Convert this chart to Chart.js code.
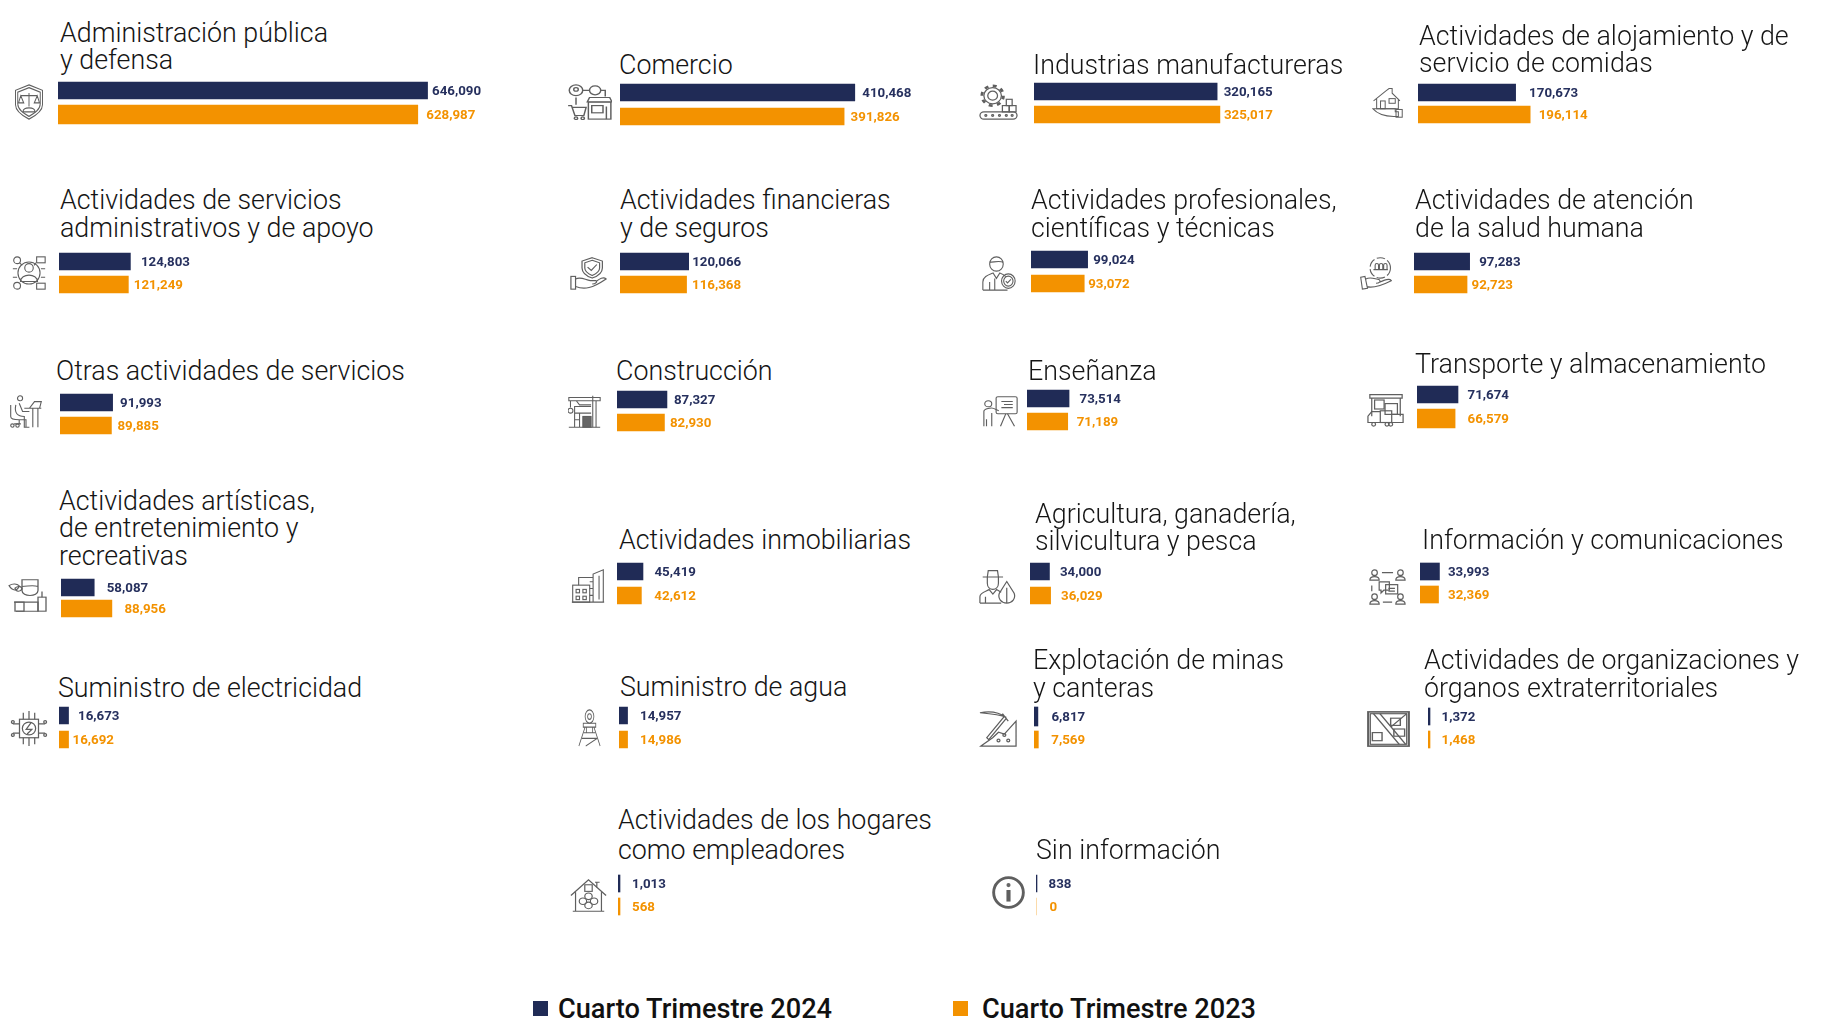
<!DOCTYPE html>
<html lang="es">
<head>
<meta charset="utf-8">
<title>Cuarto Trimestre</title>
<script src="https://cdn.jsdelivr.net/npm/chart.js@4"></script>
<style>
    html, body { margin: 0; padding: 0; background: #fff; }
    body { position: relative; width: 1823px; height: 1019px; overflow: hidden; font-family: Roboto, sans-serif; }
    canvas, .title, .icon, .legend-box, .legend-text { position: absolute; }
    .title { font-family: "Roboto Light", Roboto, sans-serif; font-weight: 300; font-size: 26.8px; color: #151515; white-space: pre; }
    .icon { fill: none; stroke: #5f5f5f; stroke-width: 1.3; }
    .legend-text { font-weight: 500; font-size: 27.2px; line-height: 30px; color: #111; white-space: pre; }
</style>
</head>
<body>
<script>
// data
const categories = [
    'Administración pública\ny defensa', 'Comercio', 'Industrias manufactureras', 'Actividades de alojamiento y de\nservicio de comidas',
    'Actividades de servicios\nadministrativos y de apoyo', 'Actividades financieras\ny de seguros', 'Actividades profesionales,\ncientíficas y técnicas', 'Actividades de atención\nde la salud humana',
    'Otras actividades de servicios', 'Construcción', 'Enseñanza', 'Transporte y almacenamiento',
    'Actividades artísticas,\nde entretenimiento y\nrecreativas', 'Actividades inmobiliarias', 'Agricultura, ganadería,\nsilvicultura y pesca', 'Información y comunicaciones',
    'Suministro de electricidad', 'Suministro de agua', 'Explotación de minas\ny canteras', 'Actividades de organizaciones y\nórganos extraterritoriales',
    'Actividades de los hogares\ncomo empleadores', 'Sin información'
];
const seriesNames = ['Cuarto Trimestre 2024', 'Cuarto Trimestre 2023'];
const values2024 = [646090, 410468, 320165, 170673, 124803, 120066, 99024, 97283, 91993, 87327, 73514, 71674, 58087, 45419, 34000, 33993, 16673, 14957, 6817, 1372, 1013, 838];
const values2023 = [628987, 391826, 325017, 196114, 121249, 116368, 93072, 92723, 89885, 82930, 71189, 66579, 88956, 42612, 36029, 32369, 16692, 14986, 7569, 1468, 568, 0];

const NAVY = '#202b56';
const ORANGE = '#f39200';
const PX_PER_VALUE = 0.000572;

// layout per panel: title x, title baseline, line height, bar x, navy top/height, orange top/height, label gaps
const panelLayout = [
    [60, 42.5, 27.5, 58, 82, 17, 105, 19, 4.5, 8.5],
    [619, 75.1, 27.5, 620, 84, 17, 108, 17, 7.5, 6.5],
    [1033, 75.1, 27.5, 1034, 83, 17, 106, 17, 6.5, 4],
    [1419, 45.8, 27, 1418, 84, 17, 106, 17, 13.5, 8.5],
    [60, 210.1, 27.4, 59, 253, 17, 276, 17, 10.5, 5.5],
    [620, 210.1, 27.4, 620, 253, 17, 276, 17, 3.5, 5.5],
    [1031, 210.1, 27.4, 1031, 251, 17, 275, 17, 5.5, 4],
    [1415, 210.1, 27.4, 1414, 253, 17, 276, 17, 9.5, 4.5],
    [56, 381.1, 27.4, 60, 394, 17, 417, 17, 7.5, 6],
    [616, 381.1, 27.4, 617, 391, 17, 414, 17, 7, 5.5],
    [1028, 381.1, 27.4, 1027, 390, 17, 413, 17, 10.5, 9],
    [1415, 373.5, 27.4, 1417, 386, 17, 409, 19, 9.5, 12.5],
    [59, 510.8, 27.4, 61, 579, 17, 600, 17, 12.5, 12.5],
    [619, 550.1, 27.4, 617, 563, 17, 587, 17, 11.5, 13],
    [1035, 523.5, 27.3, 1030, 563, 17, 587, 17, 10.5, 10.5],
    [1422, 550.1, 27.4, 1420, 563, 17, 586, 17, 8.5, 9.5],
    [58, 697.5, 27.4, 59, 707, 17, 731, 17, 9.5, 4],
    [620, 696.8, 27.4, 619, 707, 17, 731, 17, 12.5, 12.5],
    [1033, 670.1, 27.4, 1034, 707, 19, 731, 17, 13.5, 13],
    [1424, 670.1, 27.4, 1428, 708, 17, 731, 17, 11.5, 11.5],
    [618, 829, 30, 618, 875, 17, 898, 17, 12, 12],
    [1036, 859, 30, 1036, 875, 17, 898, 17, 11.5, 13.5]
];

// icons, x y w h on the page and svg content on a 40x40 grid
const iconBoxes = [
    [14, 84, 30, 36], [567, 84, 45, 36], [979, 84, 39, 36], [1372, 87, 31, 31],
    [12, 256, 34, 34], [570, 256, 37, 34], [982, 255, 34, 36], [1359, 256, 34, 34],
    [9, 395, 34, 33], [568, 395, 33, 33], [983, 396, 35, 31], [1367, 391, 38, 36],
    [8, 579, 40, 33], [571, 569, 34, 34], [979, 568, 37, 36], [1369, 568, 37, 37],
    [10, 710, 38, 37], [577, 709, 25, 38], [979, 710, 39, 37], [1367, 711, 43, 36],
    [570, 879, 37, 33], [992, 876, 33, 33]
];
const iconShapes = [
    '<path d="M20 1L38 7V23C38 31 27 36 20 39C13 36 2 31 2 23V7Z"/><path d="M20 4L35 9V22C35 29 26 33 20 36C14 33 5 29 5 22V9Z"/><path d="M20 10V25M9 13H31M9 13L6 21H13ZM31 13L27 21H34ZM12 31C12 25 28 25 28 31Z"/>',
    '<circle cx="8" cy="7" r="6"/><circle cx="8" cy="6" r="2"/><path d="M14 7H20M30 7H34V14M8 23V15"/><circle cx="25" cy="7" r="5"/><path d="M1 24H4L7 35H15L17 26H5"/><circle cx="8" cy="38" r="1.5"/><circle cx="14" cy="38" r="1.5"/><rect x="19" y="20" width="20" height="19"/><path d="M18 20L20 15H38L40 20Z"/><rect x="22" y="24" width="10" height="8"/><path d="M35 25V39"/>',
    '<circle cx="14" cy="13" r="5"/><circle cx="14" cy="13" r="9"/><circle cx="14" cy="13" r="11" stroke-width="3" stroke-dasharray="4 4.6"/><rect x="1" y="31" width="38" height="8" rx="4"/><circle cx="7" cy="35" r="1"/><circle cx="14" cy="35" r="1"/><circle cx="21" cy="35" r="1"/><circle cx="28" cy="35" r="1"/><circle cx="34" cy="35" r="1"/><rect x="24" y="24" width="7" height="7"/><rect x="31" y="24" width="7" height="7"/><rect x="28" y="17" width="6" height="7"/>',
    '<path d="M2 18L18 5L22 2H26V8L36 18M6 15V28H34V15"/><rect x="11" y="18" width="6" height="10"/><rect x="22" y="15" width="8" height="6"/><path d="M1 28H30V32H34V38H28C18 38 8 36 1 28Z"/><rect x="31" y="29" width="8" height="10"/>',
    '<circle cx="20" cy="14" r="5"/><path d="M10 30C10 20 30 20 30 30Z"/><circle cx="20" cy="20" r="13"/><circle cx="6" cy="5" r="4"/><rect x="29" y="1" width="10" height="7"/><circle cx="6" cy="35" r="4"/><rect x="29" y="32" width="10" height="7"/><path d="M1 15H6M1 25H6M34 15H39M34 25H39M9 8L12 11M28 8L26 11"/>',
    '<path d="M24 2L35 6V14C35 20 29 24 24 26C19 24 13 20 13 14V6Z"/><path d="M24 5L32 8V14C32 18 28 21 24 23C20 21 16 18 16 14V8Z"/><path d="M19 13L23 17L29 10"/><rect x="1" y="24" width="5" height="15"/><path d="M6 27C12 24 16 28 22 29H28C30 30 28 33 24 33M6 36C16 40 24 38 39 27C36 24 32 27 28 30"/>',
    '<circle cx="17" cy="10" r="8"/><path d="M9 8C14 8 20 6 25 8M1 39V30C1 24 8 22 13 20L17 26L21 20C24 21 26 22 28 24M1 39H30M15 26V39M9 30V39"/><circle cx="31" cy="29" r="8"/><circle cx="31" cy="29" r="5.5"/><path d="M28 29L30 31L34 27"/>',
    '<circle cx="25" cy="14" r="12" stroke-dasharray="10 3"/><path d="M19 16V11C19 8 23 8 23 11V16M24 16V11C24 8 28 8 28 11V16M29 16V11C29 8 33 8 33 11V16M17 16H34"/><path d="M2 25L7 24L10 38L4 39ZM8 27C14 24 18 27 24 28C26 30 24 32 20 32M9 36C16 38 24 36 38 29C36 26 30 28 24 31"/>',
    '<circle cx="13" cy="4" r="3"/><path d="M2 12V26C2 30 8 30 12 30H20V39M12 30V35M6 35H14M12 10L16 20H24M8 12C6 22 10 26 18 26V39H24M18 16H38M24 16L30 8H38L36 16M28 16V39M34 16V39"/><circle cx="4" cy="37" r="2"/><circle cx="10" cy="37" r="2"/>',
    '<path d="M1 3H39V7H1ZM30 1V39M34 7V39M3 7V15M10 7L14 12H28"/><circle cx="3" cy="19" r="3"/><path d="M1 39H39M8 39V14H28M14 39V22H28M8 22H14M8 30H14"/><rect x="18" y="26" width="10" height="13" fill="#666"/>',
    '<circle cx="6" cy="10" r="4"/><path d="M1 39V20C1 16 10 15 12 16L18 19M4 39V30M10 39V22"/><rect x="15" y="1" width="24" height="22" rx="2"/><path d="M21 7H34M24 11H34M21 15H34M26 23L20 39M28 23L36 39"/>',
    '<path d="M3 8V4H37V8ZM5 8V28M35 8V28"/><rect x="8" y="10" width="10" height="10"/><rect x="19" y="14" width="13" height="12"/><rect x="14" y="22" width="12" height="13"/><path d="M14 35H1V28L5 23H14M26 26H38V35H26"/><circle cx="7" cy="37" r="2"/><circle cx="21" cy="37" r="2"/><circle cx="25" cy="37" r="2"/>',
    '<path d="M14 1H30V14C30 22 14 22 14 14ZM14 9C20 9 24 7 30 9M6 28H30V39H8"/><path d="M1 8C5 5 9 6 11 8C10 14 5 16 1 8Z"/><path d="M7 11C10 8 14 9 14 12C12 16 8 16 7 11Z"/><rect x="7" y="28" width="9" height="11"/><rect x="30" y="22" width="8" height="17"/><path d="M34 22V15"/>',
    '<rect x="2" y="19" width="20" height="20"/><rect x="6" y="24" width="4" height="4"/><rect x="14" y="24" width="4" height="4"/><rect x="6" y="32" width="4" height="4"/><rect x="14" y="32" width="4" height="4"/><path d="M9 19V10H26M26 39V6L38 1V39M1 39H39M22 15H26M22 23H26M22 31H26M33 8V36"/>',
    '<path d="M4 10H26M9 10L10 3H20L21 10M9 10V17C9 26 21 26 21 17V10"/><path d="M1 39V32C1 27 8 26 11 24L15 29L19 24L24 27M1 39H24M7 32V39"/><path d="M30 15L38 28C40 34 36 39 30 39C24 39 20 34 22 28Z"/><path d="M30 22V39"/>',
    '<circle cx="6" cy="5" r="3"/><path d="M1 13C1 8 11 8 11 13Z"/><circle cx="34" cy="5" r="3"/><path d="M29 13C29 8 39 8 39 13Z"/><circle cx="6" cy="31" r="3"/><path d="M1 39C1 34 11 34 11 39Z"/><circle cx="34" cy="31" r="3"/><path d="M29 39C29 34 39 34 39 39Z"/><path d="M14 5H26M3 19V25M15 37H25"/><path d="M11 15H22V24H16L13 27V24H11Z"/><rect x="18" y="18" width="13" height="10"/><path d="M21 22H28M21 25H28"/>',
    '<rect x="10" y="10" width="20" height="20"/><circle cx="20" cy="20" r="7"/><path d="M22 14L17 21H23L18 26M14 10V3M20 10V1M26 10V3M14 30V37M20 30V39M26 30V37M10 15H3M10 25H3M30 15H37M30 25H37"/><circle cx="3" cy="13" r="1.5"/><circle cx="3" cy="27" r="1.5"/><circle cx="37" cy="13" r="1.5"/><circle cx="37" cy="27" r="1.5"/>',
    '<circle cx="20" cy="8" r="7"/><circle cx="20" cy="8" r="3"/><path d="M10 15H30V19H10ZM13 19L3 39M27 19L37 39M15 19V25H25V19M11 25H29M8 31H32L14 39M32 31"/>',
    '<path d="M1 3C10 1 20 2 28 8C22 5 12 4 1 3ZM24 4L30 12M26 7L8 30L10 32L28 9"/><path d="M2 39L14 30L20 24L26 26L38 12V39Z"/><circle cx="20" cy="33" r="1.5"/><circle cx="30" cy="33" r="1.5"/><circle cx="26" cy="27" r="1.5"/>',
    '<rect x="1" y="1" width="38" height="38" stroke-width="1.8"/><rect x="3" y="3" width="34" height="34"/><path d="M6 3L30 37M12 3L36 37M22 18L37 3"/><rect x="22" y="8" width="9" height="8"/><rect x="5" y="24" width="9" height="9"/><rect x="25" y="20" width="10" height="8"/>',
    '<path d="M1 20L20 1L39 20M6 16V39M34 16V39M3 39H37M29 4V11M27 4H32"/><rect x="16" y="7" width="8" height="8"/><circle cx="20" cy="21" r="4"/><circle cx="14" cy="27" r="4"/><circle cx="26" cy="27" r="4"/><circle cx="20" cy="32" r="4"/>',
    '<circle cx="20" cy="20" r="18" stroke-width="3.5"/><circle cx="20" cy="11" r="2.5" fill="#666" stroke="none"/><path d="M20 17V31" stroke-width="5"/>'
];

// value labels drawn next to each bar
const valueLabels = {
    id: 'valueLabels',
    afterDatasetsDraw(chart, args, opts) {
        const ctx = chart.ctx;
        ctx.save();
        ctx.font = '700 13.3px Roboto';
        ctx.textBaseline = 'middle';
        chart.data.datasets.forEach((ds, i) => {
            const bar = chart.getDatasetMeta(i).data[i];
            ctx.fillStyle = i === 0 ? '#26305e' : ds.backgroundColor;
            ctx.fillText(ds.data[i].toLocaleString('en-US'), bar.x + opts.gaps[i], bar.y + 1.5);
        });
        ctx.restore();
    }
};

function addTitle(text, x, baseline, lineHeight) {
    const div = document.createElement('div');
    div.className = 'title';
    div.textContent = text;
    div.style.left = x + 'px';
    div.style.top = (baseline - lineHeight / 2 - 0.3415 * 26.8) + 'px';
    div.style.lineHeight = lineHeight + 'px';
    document.body.appendChild(div);
}

function addIcon(box, shape) {
    const wrap = document.createElementNS('http://www.w3.org/2000/svg', 'svg');
    wrap.setAttribute('class', 'icon');
    wrap.setAttribute('viewBox', '0 0 40 40');
    wrap.setAttribute('preserveAspectRatio', 'none');
    wrap.setAttribute('width', box[2]);
    wrap.setAttribute('height', box[3]);
    wrap.style.left = box[0] + 'px';
    wrap.style.top = box[1] + 'px';
    wrap.innerHTML = shape;
    document.body.appendChild(wrap);
}

function addPanel(i) {
    const [titleX, baseline, lineHeight, barX, navyTop, navyH, orangeTop, orangeH, gapNavy, gapOrange] = panelLayout[i];
    addTitle(categories[i], titleX, baseline, lineHeight);
    addIcon(iconBoxes[i], iconShapes[i]);

    // the two category bands must be centred on the two bars
    const navyMid = navyTop + navyH / 2;
    const orangeMid = orangeTop + orangeH / 2;
    const band = orangeMid - navyMid;
    const top = navyTop - 10;
    const height = orangeTop + orangeH + 10 - top;
    const width = Math.min(480, 1823 - barX);

    const canvas = document.createElement('canvas');
    canvas.width = width;
    canvas.height = height;
    canvas.style.left = barX + 'px';
    canvas.style.top = top + 'px';
    document.body.appendChild(canvas);

    new Chart(canvas.getContext('2d'), {
        type: 'bar',
        data: {
            labels: seriesNames,
            datasets: [
                {
                    label: seriesNames[0],
                    data: [values2024[i], null],
                    backgroundColor: NAVY,
                    barThickness: navyH,
                    minBarLength: values2024[i] > 0 ? (values2024[i] < 1000 ? 1 : 2) : 0
                },
                {
                    label: seriesNames[1],
                    data: [null, values2023[i]],
                    backgroundColor: ORANGE,
                    barThickness: orangeH,
                    minBarLength: values2023[i] > 0 ? 2 : 0
                }
            ]
        },
        options: {
            indexAxis: 'y',
            responsive: false,
            animation: false,
            grouped: false,
            layout: {
                padding: {
                    top: navyMid - band / 2 - top,
                    bottom: top + height - (orangeMid + band / 2),
                    left: 0,
                    right: 0
                }
            },
            scales: {
                x: { display: false, min: 0, max: width / PX_PER_VALUE },
                y: { display: false }
            },
            plugins: {
                legend: { display: false },
                tooltip: { enabled: false },
                valueLabels: { gaps: [gapNavy, gapOrange] }
            }
        },
        plugins: [valueLabels]
    });
}

function addLegend() {
    const items = [[533, NAVY, 558], [953, ORANGE, 982]];
    items.forEach(([boxX, color, textX], i) => {
        const box = document.createElement('div');
        box.className = 'legend-box';
        box.style.cssText = `left:${boxX}px;top:1001px;width:15px;height:15px;background:${color}`;
        document.body.appendChild(box);
        const text = document.createElement('div');
        text.className = 'legend-text';
        text.textContent = seriesNames[i];
        text.style.left = textX + 'px';
        text.style.top = '994px';
        document.body.appendChild(text);
    });
}

document.fonts.load('700 13px Roboto').finally(() => {
    categories.forEach((c, i) => addPanel(i));
    addLegend();
});
</script>
</body>
</html>
